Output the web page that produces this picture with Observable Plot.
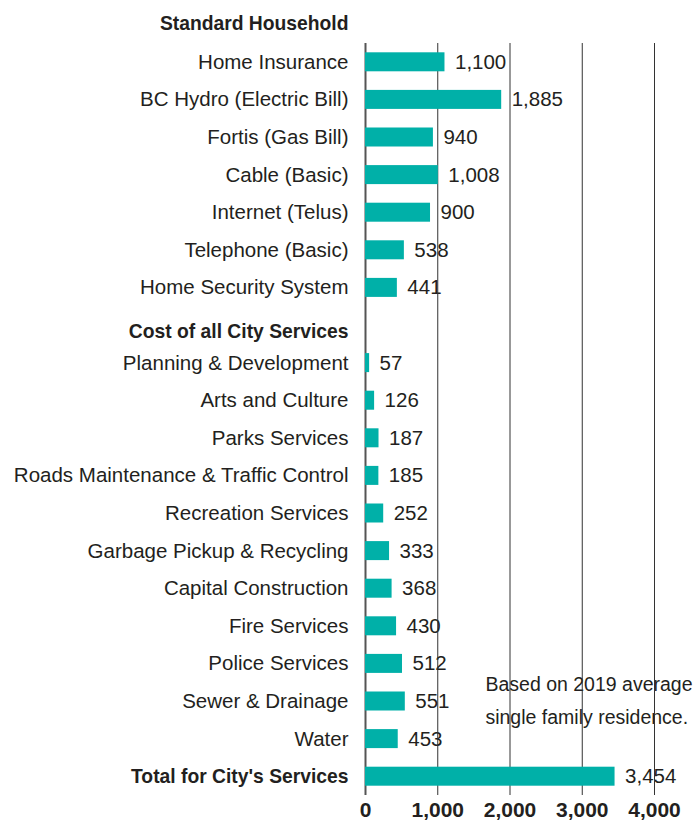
<!DOCTYPE html>
<html>
<head>
<meta charset="utf-8">
<script src="https://cdn.jsdelivr.net/npm/d3@7"></script>
<script src="https://cdn.jsdelivr.net/npm/@observablehq/plot@0.6"></script>
<style>
  html, body { margin: 0; padding: 0; background: #fff; }
  #chart svg { font-family: "Liberation Sans", Arial, sans-serif; }
</style>
</head>
<body>
<div id="chart"></div>
<script>
const household = ["Home Insurance", "BC Hydro (Electric Bill)", "Fortis (Gas Bill)", "Cable (Basic)", "Internet (Telus)", "Telephone (Basic)", "Home Security System"];
const householdValues = [1100, 1885, 940, 1008, 900, 538, 441];
const cityServices = ["Planning & Development", "Arts and Culture", "Parks Services", "Roads Maintenance & Traffic Control", "Recreation Services", "Garbage Pickup & Recycling", "Capital Construction", "Fire Services", "Police Services", "Sewer & Drainage", "Water"];
const cityValues = [57, 126, 187, 185, 252, 333, 368, 430, 512, 551, 453];
const totalLabel = "Total for City's Services";
const totalValue = 3454;
const header1 = "Standard Household";
const header2 = "Cost of all City Services";
const xTicks = [0, 1000, 2000, 3000, 4000];
const note = "Based on 2019 average\nsingle family residence.";
const noteRow = "Sewer & Drainage";

const rows = [
  ...household.map((name, i) => ({name, value: householdValues[i], bold: false})),
  ...cityServices.map((name, i) => ({name, value: cityValues[i], bold: false})),
  {name: totalLabel, value: totalValue, bold: true}
];
const domain = [...household, header2, ...cityServices, totalLabel];

const font = 20.5;
const boldFont = 19.3;
const ink = "#231f20";
const chart = Plot.plot({
  width: 697,
  height: 826,
  marginLeft: 365,
  marginRight: 43,
  marginTop: 43,
  marginBottom: 31,
  x: {domain: [0, 4000], axis: null},
  y: {domain, axis: null, padding: 0, round: false},
  marks: [
    Plot.text(rows.filter(d => !d.bold), {x: 0, y: "name", text: "name", textAnchor: "end", dx: -17, fontSize: font, fill: ink}),
    Plot.text(rows.filter(d => d.bold), {x: 0, y: "name", text: "name", textAnchor: "end", dx: -17, fontSize: boldFont, fontWeight: "bold", fill: ink}),
    Plot.text([header2], {x: 0, y: d => d, text: d => d, textAnchor: "end", dx: -17, dy: 6, fontSize: boldFont, fontWeight: "bold", fill: ink}),
    Plot.text([header1], {frameAnchor: "top-left", text: d => d, textAnchor: "end", dx: -17, dy: -27, fontSize: boldFont, fontWeight: "bold", fill: ink}),
    Plot.text(rows, {x: "value", y: "name", text: d => d3.format(",")(d.value), textAnchor: "start", dx: 10, fontSize: font, fill: ink}),
    Plot.text([note], {x: 1660, y: () => noteRow, text: d => d, textAnchor: "start", dy: -5, lineHeight: 1.7, fontSize: 19.5, fill: ink}),
    Plot.ruleX(xTicks.slice(1), {stroke: "#333", strokeWidth: 1}),
    Plot.ruleX([0], {stroke: "#555", strokeWidth: 2}),
    Plot.barX(rows, {x: "value", y: "name", fill: "#00b0a8", insetTop: 9.3, insetBottom: 9.3}),
    Plot.axisX({ticks: xTicks, tickFormat: d3.format(","), tickSize: 0, tickPadding: 7, fontSize: 21, fontWeight: "bold", color: ink, label: null})
  ]
});
document.getElementById("chart").append(chart);
</script>
</body>
</html>
